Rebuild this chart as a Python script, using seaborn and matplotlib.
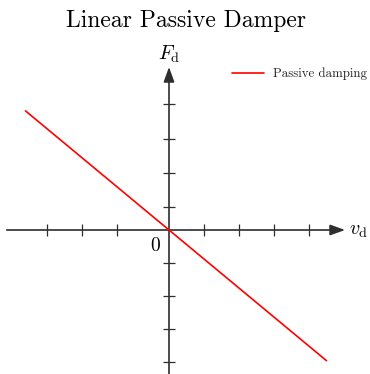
import matplotlib
matplotlib.use("Agg")
import matplotlib.pyplot as plt
import seaborn as sns
import pandas as pd

# Damper velocity and force samples (F = -c * v)
velocity = [-4.1, 4.5]
force = [3.61, -3.96]

# Tick positions along each axis
x_ticks = [-3.5, -2.5, -1.5, 1, 2, 3, 4]
y_ticks = [-4, -3, -2, -1, 0.7, 1.73, 2.76, 3.82]

title = "Linear Passive Damper"
series_label = "Passive damping"
x_label = r"$v_{\mathrm{d}}$"
y_label = r"$F_{\mathrm{d}}$"

sns.set_theme(style="white")
plt.rcParams["font.family"] = ["cmr10", "DejaVu Serif"]
plt.rcParams["mathtext.fontset"] = "cm"
plt.rcParams["axes.unicode_minus"] = False

axis_color = "#2e2e2e"

fig = plt.figure(figsize=(3.7, 3.74), dpi=100)
ax = fig.add_axes([0, 0, 1, 1])
ax.set_xlim(-169 / 35, 201 / 35)
ax.set_ylim(-144 / 33, 230 / 33)

df = pd.DataFrame({"v": velocity, "F": force, "kind": series_label})
sns.lineplot(data=df, x="v", y="F", hue="kind", palette=["#ff0000"],
             linewidth=1.2, ax=ax, legend=True, zorder=3)

# Axes through the origin
for side in ["top", "right"]:
    ax.spines[side].set_visible(False)
ax.spines["bottom"].set_position(("data", 0))
ax.spines["left"].set_position(("data", 0))
ax.spines["bottom"].set_bounds(-4.63, 4.8)
ax.spines["left"].set_bounds(-4.5, 4.7)
for side in ["bottom", "left"]:
    ax.spines[side].set_color(axis_color)
    ax.spines[side].set_linewidth(1.2)

ax.set_xticks(x_ticks)
ax.set_yticks(y_ticks)
ax.set_xticklabels([])
ax.set_yticklabels([])
ax.tick_params(axis="both", direction="inout", length=8, width=0.9,
               color=axis_color, bottom=True, left=True)
ax.set_xlabel("")
ax.set_ylabel("")

arrow = dict(arrowstyle="-|>,head_length=0.75,head_width=0.27",
             color=axis_color, lw=1.2, shrinkA=0, shrinkB=0)
ax.annotate("", xy=(5.03, 0), xytext=(4.6, 0), arrowprops=arrow)
ax.annotate("", xy=(0, 4.94), xytext=(0, 4.5), arrowprops=arrow)

ax.text(5.15, -0.02, x_label, fontsize=14.5, ha="left", va="center", color="black")
ax.text(0, 5.0, y_label, fontsize=14.5, ha="center", va="bottom", color="black")
ax.text(-0.25, -0.22, "0", fontsize=14, ha="right", va="top", color="black")

fig.text(186 / 370, 1 - 21 / 374, title, fontsize=17, ha="center",
         va="center", color="black")

leg = ax.legend(loc="center left", bbox_to_anchor=(232 / 370, 1 - 74 / 374),
                bbox_transform=fig.transFigure, frameon=False, fontsize=9.3,
                borderpad=0, borderaxespad=0, handlelength=2.5,
                handletextpad=0.65)

fig.savefig("out.png", dpi=100, facecolor="white")
